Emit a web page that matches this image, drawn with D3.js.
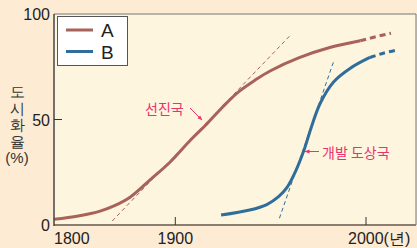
<!DOCTYPE html>
<html>
<head>
<meta charset="utf-8">
<script src="https://cdn.jsdelivr.net/npm/d3@7"></script>
<style>
  body { margin: 0; background: #fdebd4; }
  svg { display: block; font-family: "Liberation Sans", Arial, sans-serif; }
</style>
</head>
<body>
<svg id="chart" width="417" height="248"></svg>
<script>
// Data (year, urbanization %)
const seriesA = [
  [1800, 2.7], [1820, 4.3], [1838, 6.6], [1850.4, 9.3], [1863, 13.3], [1879, 21.3], [1896, 30],
  [1908, 40.3], [1916, 47.4], [1924.6, 55.7], [1933, 63], [1941.9, 68.7],
  [1949.7, 73], [1965, 79.3], [1981, 84.1], [1997, 87.3]
];
const seriesAFuture = [[1997, 87.3], [2005, 89.2], [2013, 90.9]];
const seriesB = [
  [1924, 4.7], [1939, 7.1], [1948, 9.7], [1954, 13.3], [1958.6, 17.8],
  [1963.4, 26.1], [1967.5, 35.5], [1971.2, 46], [1976, 57.7], [1983, 67.8],
  [1991.6, 74.2], [2002, 79.4]
];
const seriesBFuture = [[2002, 79.4], [2009, 81.4], [2015, 82.7]];
// tangent lines at the inflection points
const tangentA = [[1848, 1.9], [1960, 89.6]];
const tangentB = [[1954.6, 3.2], [1983, 77.4]];

const xTicks = [1800, 1900, 2000];
const yTicks = [0, 50, 100];
const legendNames = ["A", "B"];
const colors = ["#a9625a", "#2f6d9b"];
const pink = "#e8336f";

const svg = d3.select("#chart");
const plotLeft = 54, plotRight = 416, plotTop = 14, plotBottom = 225;

// the original axis is schematic: 1800-1900 is squeezed compared with 1900-2000
const x = d3.scaleLinear().domain([1800, 1900, 2000, 2026]).range([plotLeft, 175.3, 366, plotRight]);
const y = d3.scaleLinear().domain([0, 100]).range([plotBottom, plotTop]);

// plot background
svg.append("rect")
  .attr("x", plotLeft).attr("y", plotTop)
  .attr("width", plotRight - plotLeft).attr("height", plotBottom - plotTop)
  .attr("fill", "#fef5df");

const line = d3.line().x(d => x(d[0])).y(d => y(d[1])).curve(d3.curveCatmullRom.alpha(0.5));
const straight = d3.line().x(d => x(d[0])).y(d => y(d[1]));

// tangents (thin dashed)
svg.append("path").attr("d", straight(tangentA))
  .attr("fill", "none").attr("stroke", colors[0]).attr("stroke-width", 1)
  .attr("stroke-dasharray", "4,3");
svg.append("path").attr("d", straight(tangentB))
  .attr("fill", "none").attr("stroke", colors[1]).attr("stroke-width", 1)
  .attr("stroke-dasharray", "4,3");

// curves
svg.append("path").attr("d", line(seriesA))
  .attr("fill", "none").attr("stroke", colors[0]).attr("stroke-width", 3);
svg.append("path").attr("d", line(seriesAFuture))
  .attr("fill", "none").attr("stroke", colors[0]).attr("stroke-width", 3)
  .attr("stroke-dasharray", "6,4");
svg.append("path").attr("d", line(seriesB))
  .attr("fill", "none").attr("stroke", colors[1]).attr("stroke-width", 3);
svg.append("path").attr("d", line(seriesBFuture))
  .attr("fill", "none").attr("stroke", colors[1]).attr("stroke-width", 3)
  .attr("stroke-dasharray", "6,4");

// frame
svg.append("line").attr("x1", plotLeft).attr("x2", plotRight).attr("y1", plotTop).attr("y2", plotTop)
  .attr("stroke", "#777").attr("stroke-width", 1);
svg.append("line").attr("x1", plotRight).attr("x2", plotRight).attr("y1", plotTop).attr("y2", plotBottom)
  .attr("stroke", "#777").attr("stroke-width", 1);
svg.append("line").attr("x1", plotLeft).attr("x2", plotRight).attr("y1", plotBottom).attr("y2", plotBottom)
  .attr("stroke", "#8a7e70").attr("stroke-width", 2);
svg.append("line").attr("x1", plotLeft).attr("x2", plotLeft).attr("y1", plotTop).attr("y2", plotBottom + 1)
  .attr("stroke", "#444").attr("stroke-width", 1.5);

// y ticks
yTicks.forEach(t => {
  if (t === 50) {
    svg.append("line").attr("x1", plotLeft).attr("x2", plotLeft + 8)
      .attr("y1", y(t)).attr("y2", y(t)).attr("stroke", "#333");
  }
  svg.append("text")
    .attr("x", plotLeft - 4).attr("y", y(t) + 6)
    .attr("text-anchor", "end").attr("font-size", 16).attr("fill", "#222")
    .text(t);
});

// x ticks
xTicks.forEach(t => {
  if (t !== 1800) {
    svg.append("line").attr("x1", x(t)).attr("x2", x(t))
      .attr("y1", plotBottom - 8).attr("y2", plotBottom).attr("stroke", "#333");
  }
  const label = svg.append("text")
    .attr("y", 244).attr("font-size", 16).attr("fill", "#222");
  if (t === 1800) {
    label.attr("x", plotLeft).attr("text-anchor", "start").text(t);
  } else if (t === 2000) {
    label.attr("x", x(t) - 18).attr("text-anchor", "start").text(t + "(년)");
  } else {
    label.attr("x", x(t)).attr("text-anchor", "middle").text(t);
  }
});

// y axis title, stacked vertically
const yTitle = ["도", "시", "화", "율", "(%)"];
yTitle.forEach((c, i) => {
  svg.append("text")
    .attr("x", 17).attr("y", 97 + i * 16.5)
    .attr("text-anchor", "middle").attr("font-size", 15).attr("fill", "#333")
    .text(c);
});

// legend
const legend = svg.append("g");
legend.append("rect")
  .attr("x", 57.5).attr("y", 16.5).attr("width", 70).attr("height", 49)
  .attr("fill", "#fff").attr("stroke", "#555").attr("stroke-width", 1);
legendNames.forEach((n, i) => {
  const ly = 30 + i * 21.5;
  legend.append("line").attr("x1", 66).attr("x2", 93).attr("y1", ly).attr("y2", ly)
    .attr("stroke", colors[i]).attr("stroke-width", 3);
  legend.append("text").attr("x", 101).attr("y", ly + 7)
    .attr("font-size", 19).attr("fill", "#222").text(n);
});

// annotations
const defs = svg.append("defs");
defs.append("marker").attr("id", "arrow").attr("viewBox", "0 0 10 10")
  .attr("refX", 9).attr("refY", 5).attr("markerWidth", 5).attr("markerHeight", 5)
  .attr("orient", "auto")
  .append("path").attr("d", "M0,1L10,5L0,9Z").attr("fill", pink);

svg.append("text").attr("x", 145).attr("y", 114)
  .attr("font-size", 14).attr("fill", pink)
  .attr("font-family", "'Noto Sans CJK KR', sans-serif").text("선진국");
svg.append("line").attr("x1", 190).attr("y1", 108).attr("x2", 202).attr("y2", 120)
  .attr("stroke", pink).attr("stroke-width", 1).attr("marker-end", "url(#arrow)");

svg.append("line").attr("x1", 319).attr("y1", 151.5).attr("x2", 305).attr("y2", 151.5)
  .attr("stroke", pink).attr("stroke-width", 1).attr("marker-end", "url(#arrow)");
svg.append("text").attr("x", 322).attr("y", 157.5)
  .attr("font-size", 14).attr("fill", pink)
  .attr("font-family", "'Noto Sans CJK KR', sans-serif").text("개발 도상국");
</script>
</body>
</html>
